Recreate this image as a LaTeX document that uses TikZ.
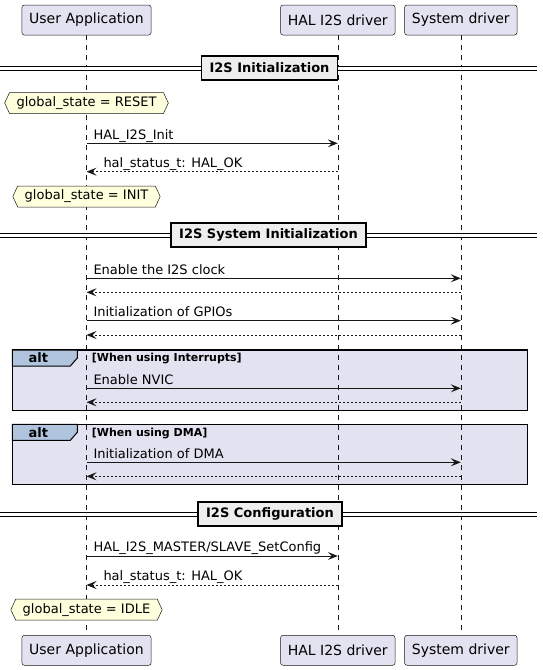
\documentclass[tikz,border=0pt]{standalone}
\usepackage{fontspec}
\setmainfont{DejaVu Sans}
\usetikzlibrary{arrows.meta,shapes.symbols}
\definecolor{partfill}{HTML}{E2E2F0}
\definecolor{inkline}{HTML}{181818}
\definecolor{notefill}{HTML}{FEFFDD}
\definecolor{divfill}{HTML}{EEEEEE}
\definecolor{tabfill}{HTML}{B0C4DE}
\tikzset{
  part/.style={draw=inkline, line width=0.5pt, fill=partfill, rounded corners=2.5pt,
    minimum height=30pt, inner xsep=7.3pt, font=\fontsize{14}{16}\selectfont},
  lifeline/.style={draw=inkline, line width=0.5pt, dash pattern=on 5pt off 5pt},
  msg/.style={draw=inkline, line width=1pt, -{Stealth[length=10pt,width=8pt,inset=4pt]}},
  ret/.style={msg, dash pattern=on 2pt off 2pt},
  lbl/.style={anchor=base west, inner sep=0pt, font=\fontsize{13}{15}\selectfont},
  state/.style={signal, signal to=west and east, signal pointer angle=130, draw=inkline,
    line width=0.5pt, fill=notefill, inner xsep=7pt, inner ysep=3pt, minimum height=21pt,
    font=\fontsize{13}{15}\selectfont},
  divider/.style={draw=black, line width=1.5pt, fill=divfill, minimum height=24pt,
    inner xsep=8pt, font=\bfseries\fontsize{13}{15}\selectfont},
  sepline/.style={draw=black, line width=1pt, double=white, double distance=2.2pt},
  altbox/.style={draw=black, line width=1.5pt, fill=partfill},
  alttab/.style={draw=black, line width=1pt, fill=tabfill},
  altlbl/.style={inner sep=0pt, font=\bfseries\fontsize{13}{15}\selectfont},
  guard/.style={anchor=west, inner sep=0pt, font=\bfseries\fontsize{11}{13}\selectfont},
}
\begin{document}
\begin{tikzpicture}[x=1pt, y=-1pt]
  \useasboundingbox (0,0) rectangle (543,670);

  % alt groups
  \draw[altbox] (12.3,350) rectangle (527.7,410.7);
  \draw[alttab] (12.3,350) -- (77.3,350) -- (77.3,358) -- (70.3,366) -- (12.3,366) -- cycle;
  \node[altlbl] (alt1) at (38.3,358) {alt};
  \node[guard] (g1) at (91.7,359) {[When using Interrupts]};
  \draw[altbox] (12.3,424.3) rectangle (527.7,484.3);
  \draw[alttab] (12.3,424.3) -- (77.3,424.3) -- (77.3,432.3) -- (70.3,440.3) -- (12.3,440.3) -- cycle;
  \node[altlbl] (alt2) at (38.3,432.3) {alt};
  \node[guard] (g2) at (91.7,433.3) {[When using DMA]};

  % participants
  \node[part] (ua)   at (86.5,20)    {User Application};
  \node[part] (hal)  at (337.8,20)   {HAL I2S driver};
  \node[part] (sys)  at (460.8,20)   {System driver};
  \node[part] (ua2)  at (86.5,650.3) {User Application};
  \node[part] (hal2) at (337.8,650.3) {HAL I2S driver};
  \node[part] (sys2) at (460.8,650.3) {System driver};
  \draw[lifeline] (ua) -- (ua2);
  \draw[lifeline] (hal) -- (hal2);
  \draw[lifeline] (sys) -- (sys2);

  % sections
  \draw[sepline] (0,68.4) -- (537,68.4);
  \node[divider] (d1) at (269.5,68) {I2S Initialization};
  \draw[sepline] (0,235.4) -- (537,235.4);
  \node[divider] (d2) at (268.5,235.2) {I2S System Initialization};
  \draw[sepline] (0,514.4) -- (537,514.4);
  \node[divider] (d3) at (270,514.2) {I2S Configuration};

  % states
  \node[state] (s1) at (86.5,103)   {global\_state = RESET};
  \node[state] (s2) at (86.5,196.5) {global\_state = INIT};
  \node[state] (s3) at (86.5,609.7) {global\_state = IDLE};

  % messages
  \draw[msg] (ua |- 0,143.3) -- (hal |- 0,143.3);
  \node[lbl] (l1) at (93.3,139) {HAL\_I2S\_Init};
  \draw[ret] (hal |- 0,171.7) -- (ua |- 0,171.7);
  \node[lbl] (l2) at (103.3,167.4) {hal\_status\_t: HAL\_OK};

  \draw[msg] (ua |- 0,278.3) -- (sys |- 0,278.3);
  \node[lbl] (l3) at (93.3,274) {Enable the I2S clock};
  \draw[ret] (sys |- 0,292.3) -- (ua |- 0,292.3);
  \draw[msg] (ua |- 0,320.7) -- (sys |- 0,320.7);
  \node[lbl] (l4) at (93.3,316.4) {Initialization of GPIOs};
  \draw[ret] (sys |- 0,335) -- (ua |- 0,335);

  \draw[msg] (ua |- 0,388.3) -- (sys |- 0,388.3);
  \node[lbl] (l5) at (93.3,384) {Enable NVIC};
  \draw[ret] (sys |- 0,402.3) -- (ua |- 0,402.3);

  \draw[msg] (ua |- 0,462.3) -- (sys |- 0,462.3);
  \node[lbl] (l6) at (93.3,458) {Initialization of DMA};
  \draw[ret] (sys |- 0,476.3) -- (ua |- 0,476.3);

  \draw[msg] (ua |- 0,556) -- (hal |- 0,556);
  \node[lbl] (l7) at (93.3,551.7) {HAL\_I2S\_MASTER/SLAVE\_SetConfig};
  \draw[ret] (hal |- 0,585) -- (ua |- 0,585);
  \node[lbl] (l8) at (103.3,580.7) {hal\_status\_t: HAL\_OK};
\end{tikzpicture}
\end{document}
